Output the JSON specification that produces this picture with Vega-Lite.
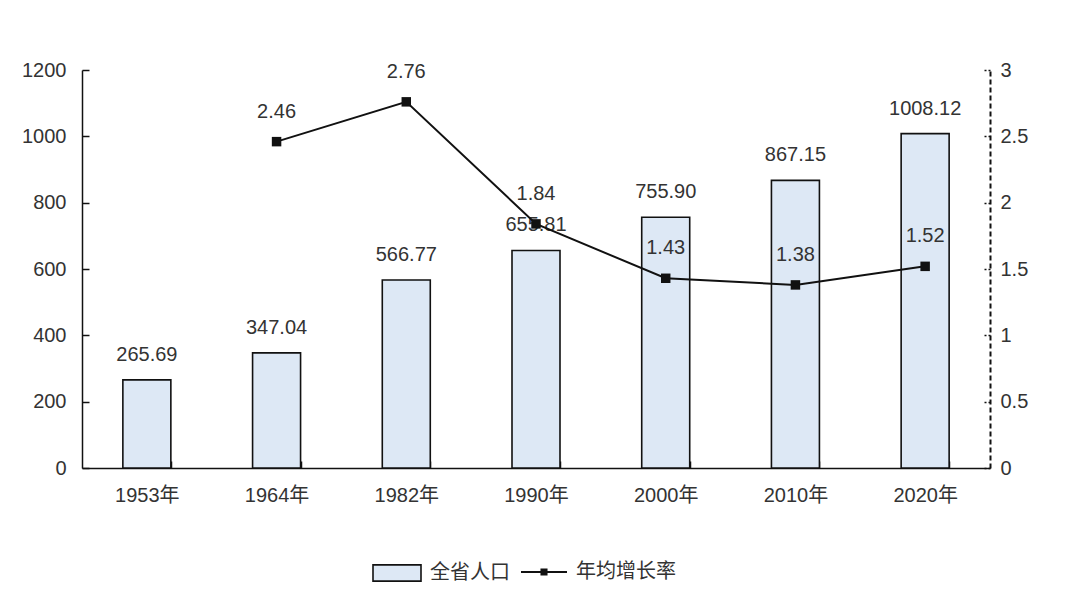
{
  "$schema": "https://vega.github.io/schema/vega-lite/v6.json",
  "width": 908,
  "height": 398,
  "autosize": {"type": "none"},
  "padding": {"left": 82, "top": 70, "right": 90, "bottom": 137},
  "background": "white",
  "config": {
    "view": {"stroke": null},
    "font": "Liberation Sans, Noto Sans CJK SC",
    "text": {"font": "Liberation Sans, Noto Sans CJK SC"}
  },
  "data": {
    "values": [
      {"year": "1953年", "pop": 265.69, "rate": null},
      {"year": "1964年", "pop": 347.04, "rate": 2.46},
      {"year": "1982年", "pop": 566.77, "rate": 2.76},
      {"year": "1990年", "pop": 655.81, "rate": 1.84},
      {"year": "2000年", "pop": 755.90, "rate": 1.43},
      {"year": "2010年", "pop": 867.15, "rate": 1.38},
      {"year": "2020年", "pop": 1008.12, "rate": 1.52}
    ]
  },
  "encoding": {
    "x": {
      "field": "year", "type": "nominal", "sort": null,
      "scale": {"paddingInner": 0.63, "paddingOuter": 0.315},
      "axis": {
        "title": null, "labelAngle": 0, "labelFontSize": 20, "labelColor": "#333",
        "labelFont": "Liberation Sans, Noto Sans CJK SC",
        "domainColor": "#111", "domainWidth": 1.5, "tickColor": "#111", "tickWidth": 1.5,
        "tickSize": -7, "tickBand": "extent", "labelPadding": 24
      }
    }
  },
  "layer": [
    {
      "encoding": {
        "y": {
          "field": "pop", "type": "quantitative",
          "scale": {"domain": [0, 1200], "nice": false},
          "axis": {
            "title": null, "values": [0, 200, 400, 600, 800, 1000, 1200], "format": "d",
            "grid": false, "labelFontSize": 20, "labelColor": "#333",
            "domainColor": "#111", "domainWidth": 1.5, "tickColor": "#111", "tickWidth": 1.5,
            "tickSize": -7, "labelPadding": 23
          }
        }
      },
      "layer": [
        {
          "mark": {"type": "bar", "stroke": "#111", "strokeWidth": 1.6},
          "encoding": {
            "fill": {
              "datum": "全省人口",
              "scale": {"range": ["#dde8f5"]},
              "legend": {
                "title": null, "orient": "none", "legendX": 290, "legendY": 478,
                "symbolType": "M-1,-0.34H1V0.34H-1Z", "symbolSize": 2304,
                "symbolStrokeColor": "#111", "symbolStrokeWidth": 1.6,
                "labelFontSize": 20, "labelColor": "#333", "labelOffset": 8,
                "labelFont": "Noto Sans CJK SC"
              }
            }
          }
        },
        {
          "mark": {"type": "text", "dy": -25, "fontSize": 20, "color": "#333"},
          "encoding": {
            "text": {"field": "pop", "type": "quantitative", "format": ".2f"}
          }
        }
      ]
    },
    {
      "transform": [{"filter": "datum.rate != null"}],
      "encoding": {
        "y": {
          "field": "rate", "type": "quantitative",
          "scale": {"domain": [0, 3], "nice": false},
          "axis": {
            "orient": "right", "title": null, "values": [0, 0.5, 1, 1.5, 2, 2.5, 3], "format": "~g",
            "grid": false, "labelFontSize": 20, "labelColor": "#333",
            "domainColor": "#111", "domainWidth": 2, "domainDash": [5, 3],
            "tickColor": "#111", "tickWidth": 1.5, "tickDash": [2, 2],
            "tickSize": -7, "labelPadding": 17
          }
        }
      },
      "layer": [
        {
          "mark": {"type": "line", "strokeWidth": 2},
          "encoding": {
            "stroke": {
              "datum": "年均增长率",
              "scale": {"range": ["#111"]},
              "legend": {
                "title": null, "orient": "none", "legendX": 438, "legendY": 478,
                "symbolType": "M-1,0H1M-0.11,-0.11H0.11V0.11H-0.11Z", "symbolSize": 2116,
                "symbolFillColor": "#111", "symbolStrokeColor": "#111", "symbolStrokeWidth": 2,
                "labelFontSize": 20, "labelColor": "#333", "labelOffset": 8,
                "labelFont": "Noto Sans CJK SC"
              }
            }
          }
        },
        {
          "mark": {"type": "point", "shape": "square", "filled": true, "size": 90, "color": "#111", "opacity": 1}
        },
        {
          "mark": {"type": "text", "dy": -30, "fontSize": 20, "color": "#333"},
          "encoding": {
            "text": {"field": "rate", "type": "quantitative", "format": ".2f"}
          }
        }
      ]
    }
  ],
  "resolve": {"scale": {"y": "independent"}}
}
